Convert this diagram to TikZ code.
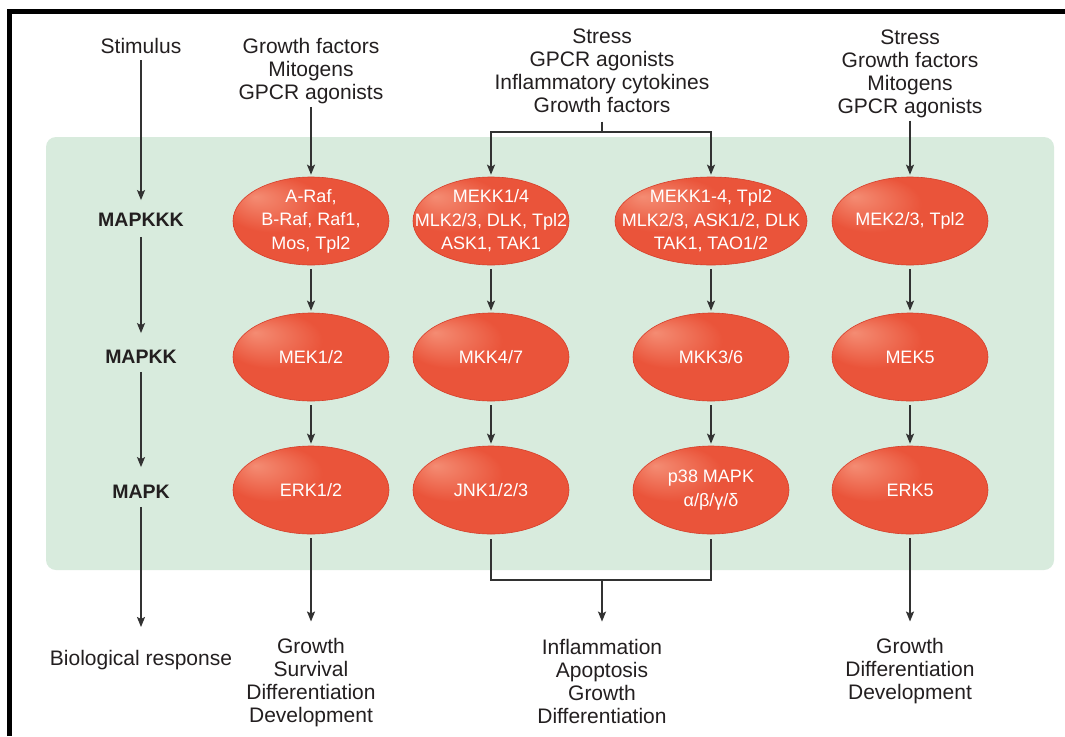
\documentclass[tikz,border=0pt]{standalone}
\usepackage{fontspec}
\setmainfont{Liberation Sans}
\usetikzlibrary{shapes.geometric,arrows.meta}
\definecolor{panel}{RGB}{216,235,221}
\definecolor{ellbase}{RGB}{234,84,58}
\definecolor{ellhi}{RGB}{244,140,115}
\definecolor{elledge}{RGB}{214,62,42}
\definecolor{ink}{RGB}{35,31,32}
\definecolor{wirec}{RGB}{50,50,50}
\pgfdeclareradialshading{ellshade}{\pgfpoint{-18bp}{14bp}}{color(0bp)=(ellhi); color(16bp)=(ellbase); color(46bp)=(ellbase); color(50bp)=(elledge)}
\begin{document}
\begin{tikzpicture}[x=1pt,y=-1pt,
 txt/.style={font=\fontsize{21}{23}\selectfont, text=ink, align=center, inner sep=0pt},
 lab/.style={font=\fontsize{19.5}{23}\selectfont\bfseries, text=ink, inner sep=0pt},
 kin/.style={ellipse, shade, shading=ellshade, draw=elledge, line width=0.6, minimum width=156, minimum height=88, inner xsep=-40pt, inner ysep=-30pt, font=\fontsize{18}{23.5}\selectfont, text=white, align=center},
 wire/.style={draw=wirec, line width=1.6},
 arr/.style={wire, -{Stealth[length=10,width=8,inset=2]}},
]
\useasboundingbox (0,0) rectangle (1065,736);
\fill[white] (0,0) rectangle (1065,736);
\fill[panel, rounded corners=10] (46,137) rectangle (1054,570);
\draw[line width=4.5, draw=black] (9.5,736) -- (9.5,11.5) -- (1065,11.5);

% top texts
\node[txt] (stim) at (141,46) {Stimulus};
\node[txt] (s1) at (311,71) {Growth factors\\Mitogens\\GPCR agonists};
\node[txt] (s2) at (602,71) {Stress\\GPCR agonists\\Inflammatory cytokines\\Growth factors};
\node[txt] (s3) at (910,73.5) {Stress\\Growth factors\\Mitogens\\GPCR agonists};

% level labels
\node[lab] (l1) at (141,220) {MAPKKK};
\node[lab] (l2) at (141,357) {MAPKK};
\node[lab] (l3) at (141,492) {MAPK};

% kinases
\node[kin] (k1) at (311,221) {A-Raf,\\B-Raf, Raf1,\\Mos, Tpl2};
\node[kin] (k2) at (491,221) {MEKK1/4\\MLK2/3, DLK, Tpl2\\ASK1, TAK1};
\node[kin, minimum width=192] (k3) at (711,221) {MEKK1-4, Tpl2\\MLK2/3, ASK1/2, DLK\\TAK1, TAO1/2};
\node[kin] (k4) at (910,221) {MEK2/3, Tpl2};

\node[kin] (kk1) at (311,357) {MEK1/2};
\node[kin] (kk2) at (491,357) {MKK4/7};
\node[kin] (kk3) at (711,357) {MKK3/6};
\node[kin] (kk4) at (910,357) {MEK5};

\node[kin] (m1) at (311,490) {ERK1/2};
\node[kin] (m2) at (491,490) {JNK1/2/3};
\node[kin] (m3) at (711,490) {p38 MAPK\\α/β/γ/δ};
\node[kin] (m4) at (910,490) {ERK5};

% responses
\node[txt] (bio) at (141,660) {Biological response};
\node[txt] (r1) at (311,683) {Growth\\Survival\\Differentiation\\Development};
\node[txt] (r2) at (602,681) {Inflammation\\Apoptosis\\Growth\\Differentiation};
\node[txt] (r3) at (910,671.5) {Growth\\Differentiation\\Development};

% left column arrows
\draw[arr, shorten <=6.5, shorten >=13] (stim.south) -- (l1.north);
\draw[arr, shorten <=10, shorten >=17] (l1.south) -- (l2.north);
\draw[arr, shorten <=8, shorten >=18] (l2.south) -- (l3.north);
\draw[arr, shorten <=8, shorten >=23] (l3.south) -- (bio.north);

% column 1
\draw[arr, shorten <=3, shorten >=2] (s1.south) -- (k1.north);
\draw[arr, shorten <=4, shorten >=2] (k1.south) -- (kk1.north);
\draw[arr, shorten <=4, shorten >=2] (kk1.south) -- (m1.north);
\draw[arr, shorten <=4, shorten >=17] (m1.south) -- (r1.north);

% middle columns
\coordinate (bt) at (602,132);
\draw[wire, shorten <=8.5] (s2.south) -- (bt);
\draw[arr, shorten >=2] (bt) -| (k2.north);
\draw[arr, shorten >=2] (bt) -| (k3.north);
\draw[arr, shorten <=4, shorten >=2] (k2.south) -- (kk2.north);
\draw[arr, shorten <=4, shorten >=2] (kk2.south) -- (m2.north);
\draw[arr, shorten <=4, shorten >=2] (k3.south) -- (kk3.north);
\draw[arr, shorten <=4, shorten >=2] (kk3.south) -- (m3.north);
\coordinate (bb) at (602,580);
\draw[wire, shorten <=5, shorten >=5] (m2.south) |- (bb) -| (m3.south);
\draw[arr, shorten >=17] (bb) -- (r2.north);

% column 4
\draw[arr, shorten <=3, shorten >=2] (s3.south) -- (k4.north);
\draw[arr, shorten <=4, shorten >=2] (k4.south) -- (kk4.north);
\draw[arr, shorten <=4, shorten >=2] (kk4.south) -- (m4.north);
\draw[arr, shorten <=4, shorten >=17] (m4.south) -- (r3.north);
\end{tikzpicture}
\end{document}
